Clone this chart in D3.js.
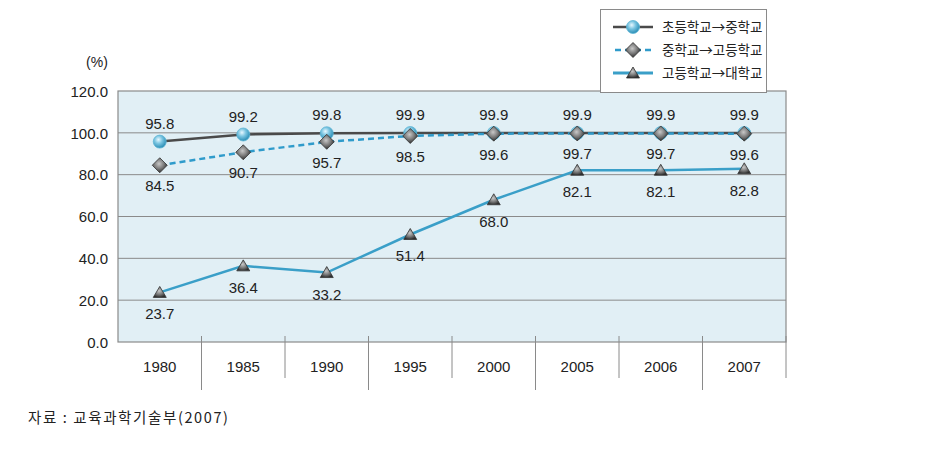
<!DOCTYPE html>
<html><head><meta charset="utf-8">
<script src="https://cdn.jsdelivr.net/npm/d3@7"></script>
<style>body{margin:0;background:#fff}svg{display:block}</style>
</head><body>
<script>
const years = ["1980","1985","1990","1995","2000","2005","2006","2007"];
const seriesNames = ["초등학교→중학교","중학교→고등학교","고등학교→대학교"];
const elemToMiddle = [95.8, 99.2, 99.8, 99.9, 99.9, 99.9, 99.9, 99.9];
const middleToHigh = [84.5, 90.7, 95.7, 98.5, 99.6, 99.7, 99.7, 99.6];
const highToUniv = [23.7, 36.4, 33.2, 51.4, 68.0, 82.1, 82.1, 82.8];
const yTicks = [0, 20, 40, 60, 80, 100, 120];
const sourceText = "자료 : 교육과학기술부(2007)";

const W = 936, H = 469;
const L = 118, R = 786, T = 91, B = 342;
const svg = d3.select("body").append("svg").attr("width", W).attr("height", H);
const font = "'Liberation Sans', Arial, sans-serif";
const defs = svg.append("defs");

const sph = defs.append("radialGradient").attr("id","sph").attr("cx","40%").attr("cy","35%").attr("r","65%");
sph.append("stop").attr("offset","0%").attr("stop-color","#e8f8ff");
sph.append("stop").attr("offset","45%").attr("stop-color","#7cc6e2");
sph.append("stop").attr("offset","100%").attr("stop-color","#2a8db5");
const gr = defs.append("radialGradient").attr("id","gry").attr("cx","45%").attr("cy","40%").attr("r","60%");
gr.append("stop").attr("offset","0%").attr("stop-color","#c8c8c8");
gr.append("stop").attr("offset","55%").attr("stop-color","#7a7a7a");
gr.append("stop").attr("offset","100%").attr("stop-color","#2e2e2e");

const x = d3.scaleBand().domain(years).range([L, R]);
const y = d3.scaleLinear().domain([0, 120]).range([B, T]);
const cx = d => x(d) + x.bandwidth()/2;

svg.append("rect").attr("x", L).attr("y", T).attr("width", R-L).attr("height", B-T)
  .attr("fill", "#e1eff5");
svg.append("g").selectAll("line").data(yTicks.filter(v => v>0 && v<120)).join("line")
  .attr("x1", L).attr("x2", R).attr("y1", d=>y(d)).attr("y2", d=>y(d))
  .attr("stroke", "#8a8a8a").attr("stroke-width", 1);
svg.append("rect").attr("x", L).attr("y", T).attr("width", R-L).attr("height", B-T)
  .attr("fill", "none").attr("stroke", "#8a8a8a").attr("stroke-width", 1.2);

const yAxis = d3.axisLeft(y).tickValues(yTicks).tickFormat(d3.format(".1f")).tickSize(0).tickPadding(10);
const ya = svg.append("g").attr("transform", `translate(${L},0)`).call(yAxis);
ya.select(".domain").remove();
ya.selectAll("text").attr("font-family", font).attr("font-size", 15).attr("fill", "#222").attr("dy", "0.35em");
svg.append("text").attr("x", 97).attr("y", 67).attr("text-anchor","middle")
  .attr("font-family", font).attr("font-size", 14).attr("fill", "#222").text("(%)");

const seps = years.map((d,i) => ({x: x(d) + x.bandwidth(), long: i % 2 === 0}));
svg.append("g").selectAll("line").data(seps).join("line")
  .attr("x1", d=>d.x).attr("x2", d=>d.x).attr("y1", B-6).attr("y2", d=> d.long ? 390 : 378)
  .attr("stroke", "#8a8a8a").attr("stroke-width", 1);
const xAxis = d3.axisBottom(x).tickSize(0).tickPadding(19);
const xa = svg.append("g").attr("transform", `translate(0,${B})`).call(xAxis);
xa.select(".domain").remove();
xa.selectAll("text").attr("font-family", font).attr("font-size", 15).attr("fill", "#222");

const line = d3.line().x((d,i) => cx(years[i])).y(d => y(d));
svg.append("path").datum(highToUniv).attr("d", line).attr("fill","none")
  .attr("stroke","#3a9fc8").attr("stroke-width", 2.5);
svg.append("path").datum(elemToMiddle).attr("d", line).attr("fill","none")
  .attr("stroke","#4a4a4a").attr("stroke-width", 2.5);
svg.append("path").datum(middleToHigh).attr("d", line).attr("fill","none")
  .attr("stroke","#2f9bcb").attr("stroke-width", 2.5).attr("stroke-dasharray","6,4");

function sphere(g, px, py){ g.append("circle").attr("cx",px).attr("cy",py).attr("r",6.5).attr("fill","url(#sph)").attr("stroke","#5fb6d6").attr("stroke-width",0.8); }
function diamond(g, px, py){ const s=7.5; g.append("path").attr("d",`M${px},${py-s}L${px+s},${py}L${px},${py+s}L${px-s},${py}Z`).attr("fill","url(#gry)").attr("stroke","#333").attr("stroke-width",0.8); }
function tri(g, px, py){ g.append("path").attr("d",`M${px},${py-6}L${px+6.5},${py+5}L${px-6.5},${py+5}Z`).attr("fill","url(#gry)").attr("stroke","#333").attr("stroke-width",0.8); }

const mg = svg.append("g");
highToUniv.forEach((v,i) => tri(mg, cx(years[i]), y(v)));
elemToMiddle.forEach((v,i) => sphere(mg, cx(years[i]), y(v)));
middleToHigh.forEach((v,i) => diamond(mg, cx(years[i]), y(v)));

const lg = svg.append("g").attr("font-family", font).attr("font-size", 15).attr("fill","#222").attr("text-anchor","middle");
const fmt = d3.format(".1f");
elemToMiddle.forEach((v,i) => lg.append("text").attr("x", cx(years[i])).attr("y", y(v)-13).text(fmt(v)));
middleToHigh.forEach((v,i) => lg.append("text").attr("x", cx(years[i])).attr("y", y(v)+26).text(fmt(v)));
highToUniv.forEach((v,i) => lg.append("text").attr("x", cx(years[i])).attr("y", y(v)+27).text(fmt(v)));

const leg = svg.append("g");
leg.append("rect").attr("x", 600.5).attr("y", 9.5).attr("width", 166).attr("height", 83)
  .attr("fill","#fff").attr("stroke","#8a8a8a").attr("stroke-width",1);
const rows = [27, 50, 73];
const lx1 = 613, lx2 = 653, mx = 633;
leg.append("line").attr("x1",lx1).attr("x2",lx2).attr("y1",rows[0]).attr("y2",rows[0]).attr("stroke","#4a4a4a").attr("stroke-width",2.5);
sphere(leg, mx, rows[0]);
leg.append("line").attr("x1",lx1+2).attr("x2",lx2).attr("y1",rows[1]).attr("y2",rows[1]).attr("stroke","#2f9bcb").attr("stroke-width",2.5).attr("stroke-dasharray","6,4");
diamond(leg, mx, rows[1]);
leg.append("line").attr("x1",lx1).attr("x2",lx2).attr("y1",rows[2]).attr("y2",rows[2]).attr("stroke","#3a9fc8").attr("stroke-width",3);
tri(leg, mx, rows[2]);
seriesNames.forEach((n,i) => leg.append("text").attr("x", 662).attr("y", rows[i]+5)
  .attr("font-family","'Noto Sans CJK KR', sans-serif").attr("font-size", 13.5).attr("fill","#222").text(n));

svg.append("text").attr("x", 28).attr("y", 423).attr("font-family","'Noto Sans CJK KR', sans-serif")
  .attr("font-size", 14.5).attr("fill","#222")
  .attr("textLength", 200).attr("lengthAdjust", "spacing").text(sourceText);
</script>
</body></html>
